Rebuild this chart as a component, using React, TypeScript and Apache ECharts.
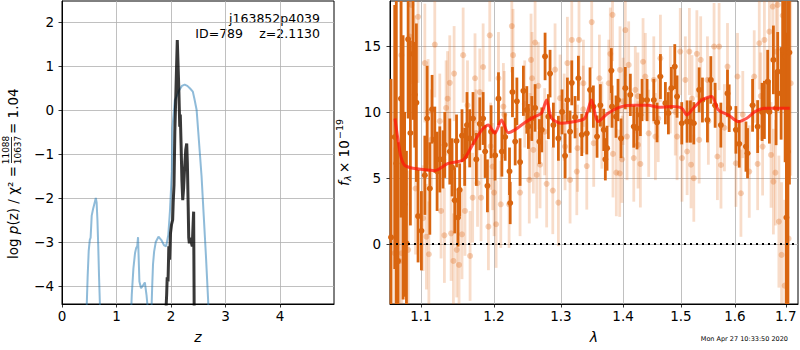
import React, { useEffect, useRef } from "react";
import * as echarts from "echarts";

const FONT = "DejaVu Sans";

// ---------- left panel: p(z) ----------
const Z_TICKS = [0, 1, 2, 3, 4];
const LOGP_TICKS = [-4, -3, -2, -1, 0, 1, 2];
const Z_RANGE = [0, 4.99];
const LOGP_RANGE = [-4.41, 2.48];

const BLUE_Z = [0.0, 0.3, 0.4, 0.45, 0.47, 0.49, 0.51, 0.525, 0.545, 0.57,
  0.6, 0.62, 0.635, 0.65, 0.665, 0.68, 0.7, 0.75, 1.0, 1.2,
  1.25, 1.28, 1.31, 1.34, 1.36, 1.38, 1.395, 1.405, 1.42, 1.45,
  1.48, 1.52, 1.55, 1.58, 1.61, 1.64, 1.655, 1.67, 1.69, 1.72,
  1.77, 1.82, 1.87, 1.91, 1.95, 1.98, 2.0, 2.015, 2.025, 2.04,
  2.07, 2.1, 2.15, 2.2, 2.25, 2.3, 2.35, 2.4, 2.43, 2.47,
  2.5, 2.53, 2.56, 2.6, 2.64, 2.68, 2.72, 3.0, 4.0, 4.99];
const BLUE_LOGP = [-15, -9, -6, -4.6, -3.8, -3.2, -2.95, -2.9, -2.4, -2.25,
  -2.1, -2.0, -2.1, -2.5, -3.1, -3.8, -4.6, -7, -12, -7,
  -5.2, -4.2, -3.6, -3.25, -3.14, -3.1, -2.89, -3.3, -3.9, -4.05,
  -4.0, -3.92, -4.2, -4.6, -5.2, -4.6, -4.0, -3.5, -3.22, -3.0,
  -2.88, -2.95, -3.07, -3.1, -2.84, -2.3, -1.8, -1.4, -0.42, -0.2,
  0.23, 0.3, 0.45, 0.55, 0.58, 0.55, 0.49, 0.42, 0.25, 0.0,
  -0.5, -1.0, -1.5, -2.4, -3.3, -4.3, -5.4, -10, -20, -25];

const BLACK_Z = [1.88, 1.905, 1.92, 1.93, 1.945, 1.96, 1.975, 1.99, 2.01, 2.03,
  2.04, 2.055, 2.07, 2.085, 2.1, 2.115, 2.13, 2.145, 2.16, 2.17,
  2.185, 2.2, 2.215, 2.23, 2.25, 2.27, 2.288, 2.3, 2.315, 2.325,
  2.336, 2.35, 2.37, 2.39, 2.405, 2.415, 2.425, 2.435, 2.45];
const BLACK_LOGP = [-10, -4.6, -4.2, -3.8, -3.9, -3.1, -3.4, -2.8, -2.6, -2.5,
  -2.1, -1.7, -0.5, 0.2, 0.9, 1.59, 1.0, 0.4, -0.38, -0.1,
  -0.8, -1.6, -2.05, -1.8, -1.3, -0.9, -0.76, -1.2, -2.2, -2.9,
  -3.03, -2.9, -3.0, -3.1, -2.6, -2.31, -4.6, -7, -12];

// ---------- right panel: spectrum ----------
const WAVE_TICKS = [1.1, 1.2, 1.3, 1.4, 1.5, 1.6, 1.7];
const FLUX_TICKS = [0, 5, 10, 15];
const WAVE_RANGE = [1.0601, 1.725];
const FLUX_RANGE = [-4.55, 18.4];

const MODEL_WAVE = [1.0664, 1.07, 1.074, 1.079, 1.0878, 1.1, 1.1183, 1.1363, 1.1568, 1.1684,
  1.1824, 1.1918, 1.2014, 1.211, 1.2206, 1.2304, 1.2452, 1.2601, 1.2702, 1.2778,
  1.2855, 1.3009, 1.3217, 1.3376, 1.3483, 1.3589, 1.3752, 1.3976, 1.42, 1.443,
  1.4603, 1.4838, 1.5016, 1.5106, 1.5225, 1.5379, 1.5563, 1.5686, 1.5875, 1.6065,
  1.6227, 1.6388, 1.6585, 1.7081];
const MODEL_FLUX = [9.5, 8.0, 6.6, 5.95, 5.75, 5.65, 5.55, 6.1, 6.36, 7.37,
  8.6, 9.0, 8.38, 9.39, 8.43, 8.64, 9.19, 9.64, 9.9, 10.9,
  9.52, 9.14, 9.27, 9.52, 10.9, 9.27, 9.9, 10.4, 10.5, 10.5,
  10.35, 10.4, 10.28, 9.77, 10.28, 10.9, 11.16, 10.15, 9.77, 9.27,
  9.52, 10.02, 10.28, 10.28];

const DARK_WAVE = [1.0614, 1.0661, 1.0681, 1.0703, 1.0741, 1.0768, 1.0787, 1.0811, 1.0833, 1.0862,
  1.0897, 1.0919, 1.094, 1.0962, 1.1006, 1.1051, 1.1081, 1.1117, 1.1147, 1.1183,
  1.1214, 1.125, 1.1294, 1.1317, 1.1385, 1.1416, 1.1452, 1.1477, 1.1497, 1.152,
  1.1552, 1.1589, 1.1621, 1.1659, 1.1705, 1.1751, 1.18, 1.1847, 1.1875, 1.1908,
  1.196, 1.2018, 1.2066, 1.2115, 1.2163, 1.2226, 1.2236, 1.2269, 1.2309, 1.2334,
  1.2381, 1.243, 1.2481, 1.2505, 1.2556, 1.2605, 1.267, 1.2706, 1.2756, 1.2806,
  1.2832, 1.2883, 1.296, 1.3017, 1.3064, 1.31, 1.3142, 1.3169, 1.3221, 1.3273,
  1.3327, 1.3407, 1.3459, 1.3513, 1.3572, 1.3626, 1.3681, 1.3707, 1.3735, 1.3806,
  1.3817, 1.3883, 1.3916, 1.3966, 1.4038, 1.4122, 1.418, 1.4235, 1.4292, 1.4321,
  1.4407, 1.4523, 1.458, 1.4638, 1.4725, 1.4778, 1.4831, 1.4891, 1.4932, 1.5016,
  1.5112, 1.5172, 1.5233, 1.5331, 1.5391, 1.5483, 1.5546, 1.5626, 1.5733, 1.5858,
  1.589, 1.6018, 1.6082, 1.6211, 1.6242, 1.634, 1.6439, 1.6526, 1.6572, 1.6637,
  1.6671, 1.6751, 1.6805, 1.6837, 1.6906, 1.6938, 1.6987, 1.7013, 1.704, 1.7074];
const DARK_FLUX = [0.5, 8.1, 6.1, -1.3, 11.0, 5.8, 3.0, 0.05, 15.5, 8.4,
  14.4, 11.3, 10.7, 2.1, 1.0, 5.2, 9.5, 4.2, 10.2, 7.9,
  5.5, 6.4, 6.4, 7.5, 7.0, 5.8, 3.3, 7.8, 2.0, 4.1,
  8.2, 6.6, 9.0, 8.0, 9.5, 6.4, 9.1, 9.5, 7.0, 4.4,
  8.5, 6.7, 11.0, 7.0, 8.1, 5.5, 3.1, 11.5, 7.75, 10.8,
  6.2, 11.6, 10.15, 8.9, 9.5, 10.3, 7.75, 8.64, 14.2, 9.64,
  12.9, 9.0, 8.0, 10.0, 6.67, 10.9, 8.5, 12.2, 9.6, 12.55,
  8.26, 8.38, 11.67, 10.4, 8.13, 10.5, 8.64, 6.41, 7.25, 13.13,
  10.4, 9.64, 10.9, 8.0, 11.8, 11.29, 8.89, 8.76, 9.77, 10.9,
  10.9, 10.9, 9.2, 12.68, 10.66, 9.9, 11.8, 13.43, 11.16, 9.14,
  9.27, 9.27, 9.14, 11.67, 10.9, 9.39, 12.42, 10.5, 9.0, 11.4,
  10.28, 8.64, 7.58, 7.37, 6.87, 10.5, 8.89, 10.0, 10.15, 12.3,
  10.0, 13.94, 10.28, 13.05, 11.4, 14.7, 14.19, 2.0, 6.99, 14.5];
const DARK_ERR = [12, 10, 13, 9, 9, 10, 7, 7, 6, 7,
  5, 4, 6, 3.5, 3, 3, 4, 3.5, 2.6, 2.5,
  3, 2.5, 2.2, 2.5, 2.5, 2.2, 2.5, 2.0, 2.2, 2.0,
  2.0, 2.2, 2.5, 2.2, 2.0, 2.0, 2.0, 2.0, 2.0, 2.0,
  2.0, 1.9, 2.0, 1.9, 1.8, 1.8, 1.6, 1.9, 1.8, 1.8,
  1.8, 1.9, 1.8, 1.7, 1.7, 1.8, 1.7, 1.7, 1.8, 1.7,
  1.8, 1.7, 1.7, 1.7, 1.7, 1.7, 1.6, 1.7, 1.6, 1.7,
  1.6, 1.6, 1.7, 1.6, 1.6, 1.6, 1.6, 1.6, 1.7, 1.7,
  1.6, 1.6, 1.6, 1.5, 1.6, 1.6, 1.6, 1.6, 1.6, 1.6,
  1.6, 1.6, 1.5, 1.7, 1.6, 1.6, 1.6, 1.7, 1.6, 1.6,
  1.6, 1.6, 1.6, 1.7, 1.7, 1.7, 1.8, 1.7, 1.7, 1.8,
  1.8, 1.8, 1.8, 1.9, 1.9, 2.0, 2.0, 2.2, 2.2, 2.4,
  2.4, 2.6, 2.8, 3.0, 3.5, 4.5, 8, 14, 12, 10];

const LIGHT_WAVE = [1.0661, 1.0725, 1.0746, 1.0751, 1.0833, 1.0855, 1.0876, 1.0919, 1.0929, 1.0962,
  1.1028, 1.1051, 1.1072, 1.1094, 1.1104, 1.1138, 1.1183, 1.125, 1.1267, 1.1312,
  1.1335, 1.1355, 1.1385, 1.1403, 1.1434, 1.1444, 1.148, 1.1511, 1.1568, 1.1593,
  1.1552, 1.1628, 1.1664, 1.17, 1.1733, 1.1748, 1.1768, 1.18, 1.1818, 1.1847,
  1.1922, 1.1941, 1.1953, 1.1982, 1.2003, 1.2032, 1.2066, 1.2099, 1.2137, 1.222,
  1.226, 1.2278, 1.2381, 1.2518, 1.2544, 1.2529, 1.2559, 1.2579, 1.2605, 1.263,
  1.2653, 1.268, 1.278, 1.2874, 1.2909, 1.296, 1.2986, 1.3064, 1.31, 1.3142,
  1.3169, 1.3248, 1.326, 1.3283, 1.3353, 1.3407, 1.3486, 1.3518, 1.361, 1.3763,
  1.3789, 1.3825, 1.3833, 1.3888, 1.3944, 1.3949, 1.3983, 1.4038, 1.4066, 1.4094,
  1.418, 1.4206, 1.4252, 1.4292, 1.4338, 1.4377, 1.4435, 1.4523, 1.4551, 1.4638,
  1.4812, 1.4932, 1.4989, 1.502, 1.508, 1.5112, 1.5153, 1.5183, 1.5233, 1.5289,
  1.5331, 1.5359, 1.5483, 1.5606, 1.5668, 1.57, 1.5735, 1.5858, 1.6018, 1.6048,
  1.6114, 1.6275, 1.6372, 1.6439, 1.6471, 1.6537, 1.6572, 1.6671, 1.6704, 1.6737,
  1.6751, 1.6791, 1.6805, 1.6837, 1.6861, 1.6915, 1.6938, 1.6978, 1.7057, 1.7101,
  1.215, 1.245, 1.275, 1.305, 1.335, 1.365, 1.4, 1.425, 1.46, 1.49,
  1.52, 1.55, 1.58, 1.615, 1.65];
const LIGHT_FLUX = [-0.7, -1.3, 14.3, -0.7, -0.45, 15.7, 18.1, 12.3, 4.2, 17.2,
  1.95, 13.7, 0.55, 10.0, -0.78, 7.9, 15.1, 9.3, 2.5, 0.65,
  10.3, 11.0, 12.2, 0.8, -1.29, 12.9, -0.45, -1.59, 14.3, 2.5,
  0.73, 10.5, -0.91, 3.5, 12.55, 8.4, 4.6, 11.5, 3.5, 13.4,
  1.31, 15.8, 7.4, 5.86, 3.89, 1.49, 12.55, 3.0, 10.4, 3.0,
  16.5, 14.3, 3.89, 4.85, 13.94, 8.13, 12.55, 7.12, 15.25, 5.23,
  11.97, 6.0, 4.55, 4.04, 13.2, 3.13, 11.04, 7.37, 13.7, 4.85,
  15.45, 5.48, 7.25, 15.45, 12.17, 5.9, 16.8, 7.63, 12.55, 12.17,
  14.4, 17.35, 6.82, 5.4, 5.35, 13.18, 6.41, 16.2, 8.13, 13.56,
  6.5, 11.67, 7.5, 6.06, 13.8, 12.68, 8.38, 12.42, 8.13, 14.06,
  11.67, 8.13, 14.57, 6.5, 12.42, 7.0, 14.57, 6.0, 4.98, 14.4,
  7.88, 13.94, 12.42, 14.95, 6.62, 14.95, 5.98, 13.43, 6.11, 12.68,
  3.84, 5.48, 12.68, 6.06, 15.2, 7.37, 15.45, 16.08, 6.74, 17.98,
  4.72, 5.4, 14.57, 18.1, 1.69, -0.83, 17.3, -3.16, 0.4, 12.17,
  9.8, 10.6, 8.5, 9.6, 10.2, 9.0, 10.8, 11.2, 9.5, 10.0,
  11.0, 9.3, 8.8, 9.8, 11.2];
const LIGHT_ERR = [8, 8, 7, 7, 6, 5, 6, 5, 5, 5,
  4, 4.5, 4, 4, 4, 3.8, 4, 3.6, 3.6, 3.6,
  3.6, 3.6, 3.6, 3.6, 3.6, 3.6, 3.6, 3.6, 3.6, 3.4,
  3.4, 3.4, 3.4, 3.4, 3.4, 3.3, 3.3, 3.3, 3.3, 3.3,
  3.3, 3.5, 3.3, 3.3, 3.3, 3.3, 3.5, 3.3, 3.3, 3.3,
  3.5, 3.5, 3.3, 3.3, 3.5, 3.3, 3.5, 3.3, 3.5, 3.3,
  3.3, 3.3, 3.3, 3.3, 3.5, 3.3, 3.3, 3.3, 3.5, 3.3,
  3.5, 3.3, 3.3, 3.5, 3.3, 3.3, 3.5, 3.3, 3.3, 3.3,
  3.5, 3.5, 3.3, 3.3, 3.3, 3.3, 3.3, 3.5, 3.3, 3.3,
  3.3, 3.3, 3.3, 3.3, 3.3, 3.3, 3.3, 3.3, 3.3, 3.3,
  3.3, 3.3, 3.3, 3.3, 3.3, 3.3, 3.3, 3.3, 3.3, 3.3,
  3.3, 3.3, 3.3, 3.3, 3.3, 3.3, 3.3, 3.3, 3.3, 3.3,
  3.3, 3.5, 3.5, 3.5, 3.5, 3.7, 3.7, 4, 4, 4,
  4, 4, 4.5, 4.5, 5, 5.5, 5.5, 6.5, 8, 7,
  3.3, 3.3, 3.3, 3.3, 3.3, 3.3, 3.3, 3.3, 3.3, 3.3,
  3.3, 3.3, 3.3, 3.3, 3.3];

const TITLE_NAME = "j163852p4039";
const TITLE_ID = "ID=789";
const TITLE_Z = "z=2.1130";
const CHI_NUM = "11088";
const CHI_DEN = "10637";
const CHI_VAL = "1.04";
const TIMESTAMP = "Mon Apr 27 10:33:50 2020";

const DARK = "rgb(217,101,15)";
const LIGHT_BAR = "rgba(225,110,30,0.24)";
const LIGHT_DOT = "rgba(225,110,30,0.32)";

const minus = (s: string) => s.replace("-", "\u2212");

function errSeries(wave: number[], flux: number[], err: number[], bar: string, dot: string, z: number) {
  return {
    type: "custom",
    xAxisIndex: 1,
    yAxisIndex: 1,
    z,
    silent: true,
    encode: { x: 0, y: 1 },
    data: wave.map((w, i) => [Math.log10(w), flux[i], err[i]]),
    renderItem: (params: any, api: any) => {
      const x = api.value(0);
      const f = api.value(1);
      const e = api.value(2);
      const c = api.coord([x, f]);
      const t = api.coord([x, f + e]);
      const b = api.coord([x, f - e]);
      const cs = params.coordSys;
      const top = Math.max(cs.y, t[1]);
      const bot = Math.min(cs.y + cs.height, b[1]);
      const children: any[] = [];
      if (bot > top) {
        children.push({ type: "line", shape: { x1: c[0], y1: top, x2: c[0], y2: bot }, style: { stroke: bar, lineWidth: 2.8 } });
      }
      if (c[1] >= cs.y && c[1] <= cs.y + cs.height) {
        children.push({ type: "circle", shape: { cx: c[0], cy: c[1], r: 3 }, style: { fill: dot, stroke: null } });
      }
      return { type: "group", children };
    },
  };
}

export default function App() {
  const ref = useRef<HTMLDivElement>(null);
  useEffect(() => {
    if (!ref.current) return;
    const chart = echarts.init(ref.current, undefined, { renderer: "svg" });
    const tickLabel = { fontFamily: FONT, fontSize: 13.5, color: "#000" };
    const tick = { show: true, inside: false, length: 3.5, lineStyle: { color: "#000", width: 0.8 } };
    const split = { show: true, lineStyle: { color: "#b0b0b0", width: 0.8 } };
    const axLine = { show: true, onZero: false, lineStyle: { color: "#000", width: 1 } };
    const logW = WAVE_TICKS.map((w) => Math.log10(w));
    const xr = [Math.log10(WAVE_RANGE[0]), Math.log10(WAVE_RANGE[1])];
    const mainText = { fontFamily: FONT, fontSize: 13.5, fill: "#000" };

    chart.setOption({
      animation: false,
      backgroundColor: "#fff",
      grid: [
        { left: 62, top: 1, width: 272, height: 303, show: true, borderColor: "#000", borderWidth: 1, outerBoundsMode: "none" },
        { left: 390, top: 1, width: 408, height: 303, show: true, borderColor: "#000", borderWidth: 1, outerBoundsMode: "none" },
      ],
      xAxis: [
        {
          gridIndex: 0, type: "value", min: Z_RANGE[0], max: Z_RANGE[1],
          axisLine: axLine, axisTick: { ...tick, customValues: Z_TICKS },
          axisLabel: { ...tickLabel, margin: 5, customValues: Z_TICKS, formatter: (v: number) => minus(String(v)) },
          splitLine: split,
          name: "z", nameLocation: "middle", nameGap: 26,
          nameTextStyle: { fontFamily: FONT, fontSize: 14, fontStyle: "italic", color: "#000" },
        },
        {
          gridIndex: 1, type: "value", min: xr[0], max: xr[1],
          axisLine: axLine, axisTick: { ...tick, customValues: logW },
          axisLabel: { ...tickLabel, margin: 5, customValues: logW, formatter: (v: number) => Math.pow(10, v).toFixed(1) },
          splitLine: split,
          name: "λ", nameLocation: "middle", nameGap: 26,
          nameTextStyle: { fontFamily: FONT, fontSize: 14, fontStyle: "italic", color: "#000" },
        },
      ],
      yAxis: [
        {
          gridIndex: 0, type: "value", min: LOGP_RANGE[0], max: LOGP_RANGE[1],
          axisLine: axLine, axisTick: { ...tick, customValues: LOGP_TICKS },
          axisLabel: { ...tickLabel, margin: 8, customValues: LOGP_TICKS, formatter: (v: number) => minus(String(v)) },
          splitLine: split,
        },
        {
          gridIndex: 1, type: "value", min: FLUX_RANGE[0], max: FLUX_RANGE[1],
          axisLine: axLine, axisTick: { ...tick, customValues: FLUX_TICKS },
          axisLabel: { ...tickLabel, margin: 9, customValues: FLUX_TICKS, formatter: (v: number) => minus(String(v)) },
          splitLine: split,
        },
      ],
      series: [
        {
          type: "line", xAxisIndex: 0, yAxisIndex: 0, showSymbol: false, silent: true, z: 3,
          data: BLUE_Z.map((z, i) => [z, BLUE_LOGP[i]]),
          lineStyle: { color: "rgba(31,119,180,0.5)", width: 2 },
        },
        {
          type: "line", xAxisIndex: 0, yAxisIndex: 0, showSymbol: false, silent: true, z: 4,
          data: BLACK_Z.map((z, i) => [z, BLACK_LOGP[i]]),
          lineStyle: { color: "rgba(0,0,0,0.78)", width: 3 },
        },
        errSeries(LIGHT_WAVE, LIGHT_FLUX, LIGHT_ERR, LIGHT_BAR, LIGHT_DOT, 3),
        errSeries(DARK_WAVE, DARK_FLUX, DARK_ERR, DARK, DARK, 4),
        {
          type: "line", xAxisIndex: 1, yAxisIndex: 1, showSymbol: false, silent: true, z: 5, smooth: 0.25,
          data: MODEL_WAVE.map((w, i) => [Math.log10(w), MODEL_FLUX[i]]),
          lineStyle: { color: "rgba(255,20,10,0.72)", width: 3 },
        },
        {
          type: "line", xAxisIndex: 1, yAxisIndex: 1, showSymbol: false, silent: true, z: 6,
          data: [[xr[0], 0], [xr[1], 0]],
          lineStyle: { color: "#000", width: 2, type: [2, 4] },
        },
      ],
      graphic: [
        { type: "text", right: 480, top: 12, style: { text: TITLE_NAME, fontFamily: FONT, fontSize: 12.5, fill: "#000" } },
        { type: "text", right: 557, top: 27, style: { text: TITLE_ID, fontFamily: FONT, fontSize: 12.5, fill: "#000" } },
        { type: "text", right: 480, top: 27, style: { text: TITLE_Z, fontFamily: FONT, fontSize: 12.5, fill: "#000" } },
        {
          type: "group", x: 12.5, y: 150, rotation: Math.PI / 2,
          children: [
            {
              type: "text", x: -16, y: 0,
              style: {
                text: "{n|log }{i|p}{n|(z) / χ² =}",
                align: "right", verticalAlign: "middle",
                rich: {
                  n: { fontFamily: FONT, fontSize: 13.5, fill: "#000" },
                  i: { fontFamily: FONT, fontSize: 13.5, fontStyle: "italic", fill: "#000" },
                },
              },
            },
            { type: "text", x: 0, y: -2, style: { text: CHI_NUM, fontFamily: FONT, fontSize: 9, fill: "#000", align: "center", verticalAlign: "bottom" } },
            { type: "line", shape: { x1: -13, y1: -1, x2: 13, y2: -1 }, style: { stroke: "#000", lineWidth: 0.8 } },
            { type: "text", x: 0, y: 0.5, style: { text: CHI_DEN, fontFamily: FONT, fontSize: 9, fill: "#000", align: "center", verticalAlign: "top" } },
            { type: "text", x: 16, y: 0, style: { text: "= " + CHI_VAL, ...mainText, align: "left", verticalAlign: "middle" } },
          ],
        },
        {
          type: "group", x: 344, y: 152, rotation: Math.PI / 2,
          children: [
            { type: "text", x: -34, y: 0, style: { text: "f", fontFamily: FONT, fontSize: 13.5, fontStyle: "italic", fill: "#000", align: "left", verticalAlign: "middle" } },
            { type: "text", x: -29, y: 3.5, style: { text: "λ", fontFamily: FONT, fontSize: 9.5, fontStyle: "italic", fill: "#000", align: "left", verticalAlign: "middle" } },
            { type: "text", x: -21, y: 0, style: { text: "× 10", ...mainText, align: "left", verticalAlign: "middle" } },
            { type: "text", x: 13, y: -5, style: { text: "\u221219", fontFamily: FONT, fontSize: 9.5, fill: "#000", align: "left", verticalAlign: "middle" } },
          ],
        },
        { type: "text", right: 12, top: 335, style: { text: TIMESTAMP, fontFamily: FONT, fontSize: 6.5, fill: "#000" } },
      ],
    });
    return () => chart.dispose();
  }, []);
  return <div ref={ref} style={{ position: "fixed", left: 0, top: 0, width: 800, height: 350 }} />;
}
